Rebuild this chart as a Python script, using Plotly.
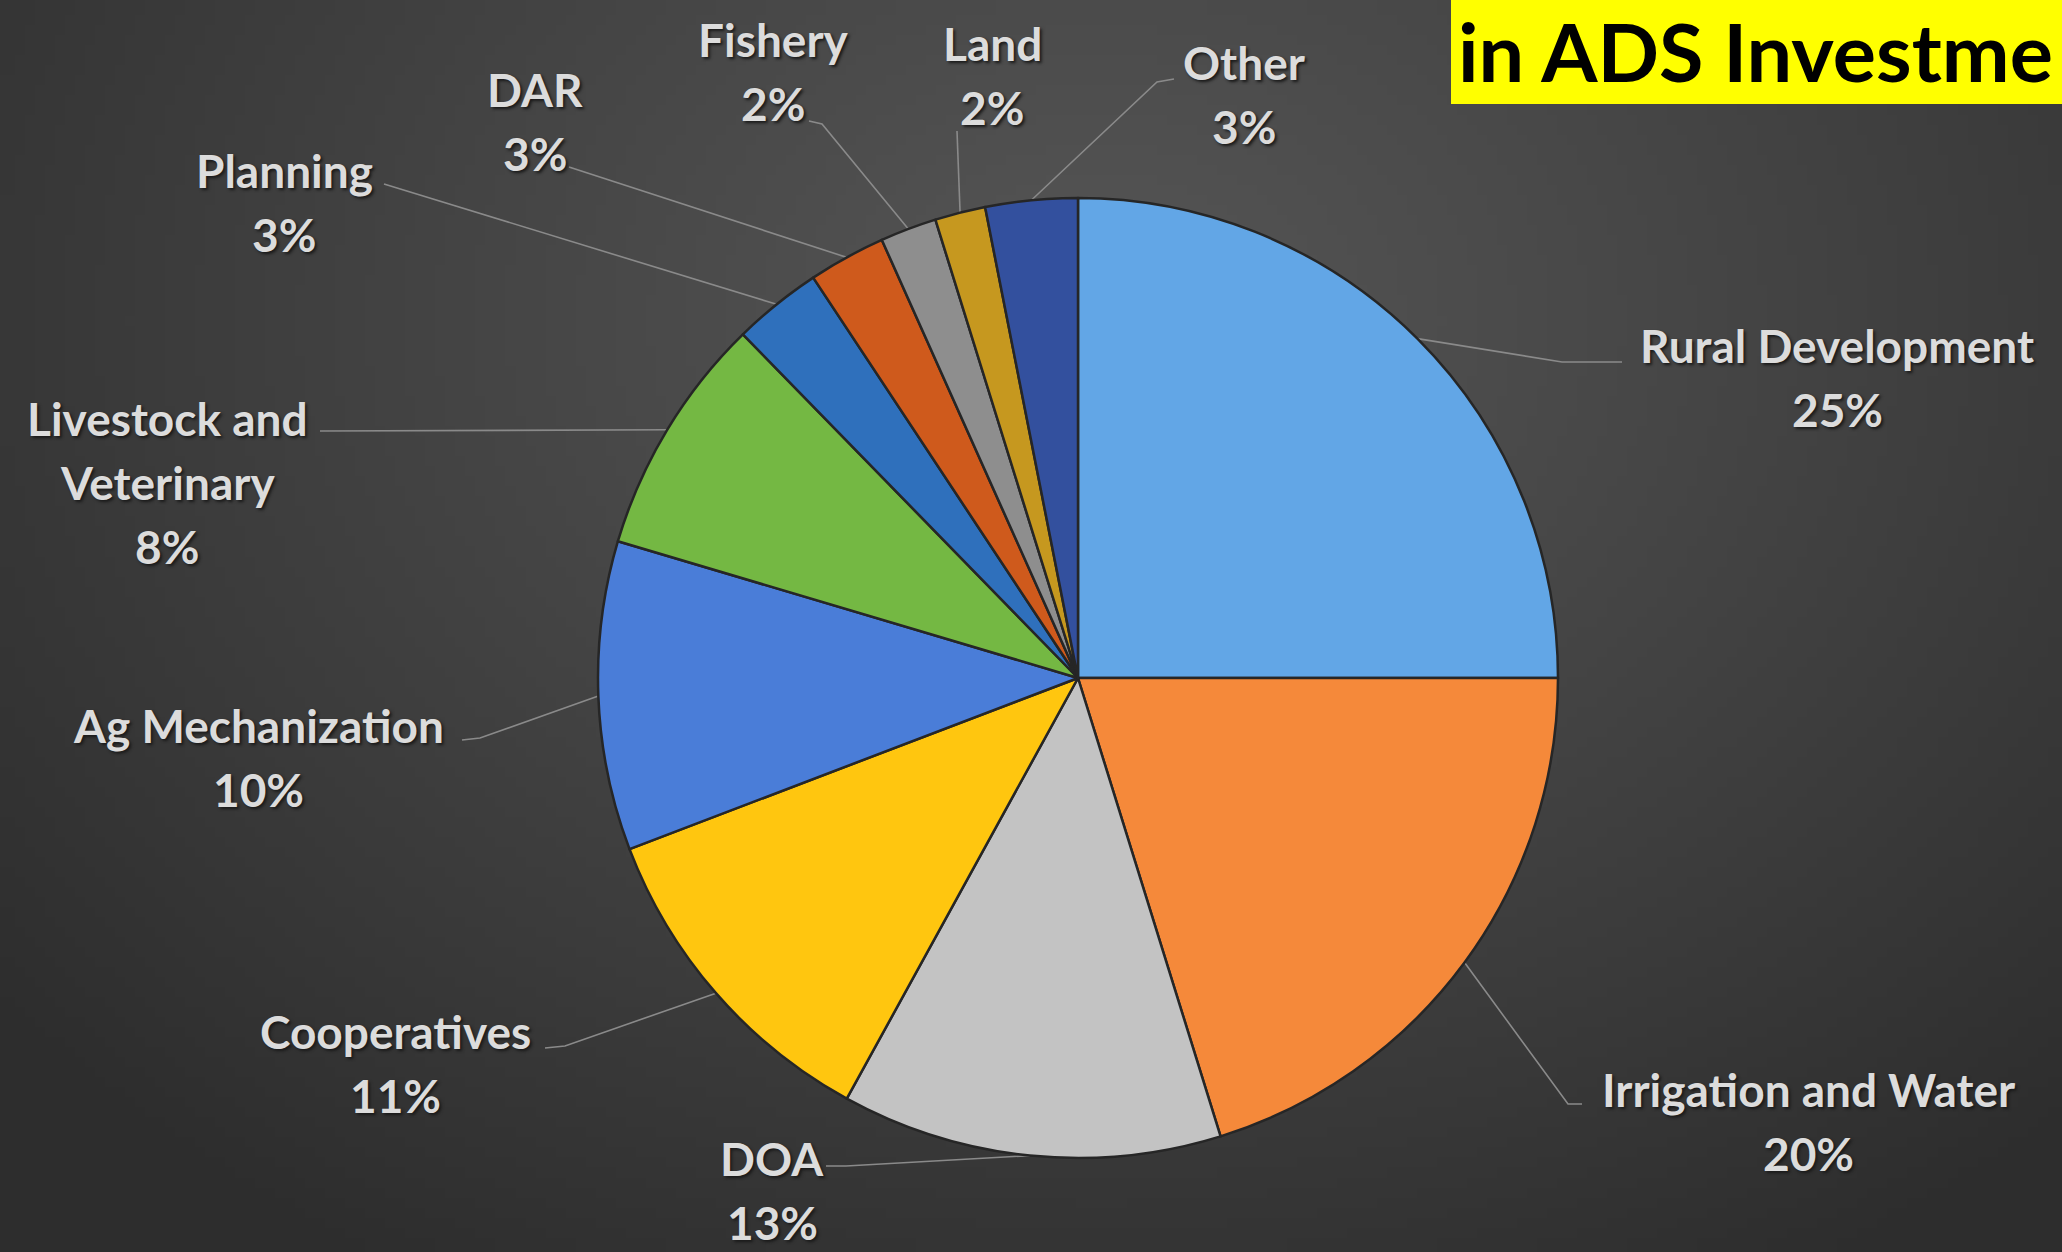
import math, struct, zlib, base64
import plotly.graph_objects as go

# ---------------- data ----------------
categories = ["Rural Development", "Irrigation and Water", "DOA", "Cooperatives",
              "Ag Mechanization", "Livestock and Veterinary", "Planning", "DAR",
              "Fishery", "Land", "Other"]
values = [25.0, 20.2, 12.8, 11.2, 10.4, 8.1, 3.0, 2.6, 1.9, 1.7, 3.1]
colors = ["#62A6E6", "#F5893A", "#C3C3C3", "#FFC60F", "#4A7DD8", "#74B843",
          "#2F70BC", "#CF5A1C", "#8E8E8E", "#C6981F", "#33509E"]
title_text = "in ADS Investme"

# ---------------- layout constants (pixels) ----------------
W, H = 2062, 1252
CX, CY, R = 1078, 678, 480

# label layout: (x center, first line y, leader start, optional elbow)
label_layout = {
    "Rural Development":        dict(x=1837, y=345, start=(1622, 362), elbow=(1562, 362)),
    "Irrigation and Water":     dict(x=1808, y=1089, start=(1582, 1104), elbow=(1568, 1104)),
    "DOA":                      dict(x=772, y=1158, start=(826, 1166), elbow=(846, 1166)),
    "Cooperatives":             dict(x=395, y=1031, start=(545, 1048), elbow=(565, 1046)),
    "Ag Mechanization":         dict(x=258, y=725, start=(462, 740), elbow=(480, 738)),
    "Livestock and Veterinary": dict(x=167, y=418, start=(320, 431), elbow=None),
    "Planning":                 dict(x=284, y=170, start=(384, 184), elbow=None),
    "DAR":                      dict(x=535, y=89, start=(569, 167), elbow=None),
    "Fishery":                  dict(x=773, y=39, start=(809, 121), elbow=(822, 124)),
    "Land":                     dict(x=992, y=43, start=(957, 131), elbow=None),
    "Other":                    dict(x=1244, y=62, start=(1174, 79), elbow=(1157, 82)),
}
wrap = {"Livestock and Veterinary": ["Livestock and", "Veterinary"]}
LINE = 64
FONT = "Lato"

# ---------------- background gradient (generated PNG) ----------------
def make_png(w, h, rows):
    def chunk(tag, data):
        return (struct.pack(">I", len(data)) + tag + data +
                struct.pack(">I", zlib.crc32(tag + data) & 0xffffffff))
    raw = b"".join(b"\x00" + bytes(r) for r in rows)
    return (b"\x89PNG\r\n\x1a\n" +
            chunk(b"IHDR", struct.pack(">IIBBBBB", w, h, 8, 2, 0, 0, 0)) +
            chunk(b"IDAT", zlib.compress(raw, 9)) + chunk(b"IEND", b""))

gw, gh = 206, 125
rows = []
for j in range(gh):
    row = []
    y = (j + 0.5) * H / gh
    for i in range(gw):
        x = (i + 0.5) * W / gw
        d = math.sqrt(((x - 1100) / 1350) ** 2 + ((y - 320) / 1050) ** 2)
        t = min(d / 1.05, 1.0)
        c = int(round(0x55 + (0x2d - 0x55) * t ** 1.1))
        row += [c, c, c]
    rows.append(row)
bg_uri = "data:image/png;base64," + base64.b64encode(make_png(gw, gh, rows)).decode()

# ---------------- figure ----------------
fig = go.Figure()

fig.add_trace(go.Pie(
    labels=categories, values=values, sort=False, direction="clockwise", rotation=0,
    marker=dict(colors=colors, line=dict(color="#262626", width=2.5)),
    textinfo="none", hoverinfo="label+percent", showlegend=False,
    domain=dict(x=[(CX - R) / W, (CX + R) / W], y=[1 - (CY + R) / H, 1 - (CY - R) / H]),
))

total = sum(values)
lx, ly = [], []
annotations = []
cum = 0.0
for name, v in zip(categories, values):
    mid = 2 * math.pi * (cum + v / 2) / total
    cum += v
    rim = (CX + R * math.sin(mid), CY - R * math.cos(mid))
    lay = label_layout[name]
    pts = [lay["start"]] + ([lay["elbow"]] if lay["elbow"] else []) + [rim]
    for p in pts:
        lx.append(p[0]); ly.append(p[1])
    lx.append(None); ly.append(None)
    pct = f"{round(v / total * 100):d}%"
    lines = wrap.get(name, [name]) + [pct]
    for k, txt in enumerate(lines):
        annotations.append(dict(
            x=lay["x"], y=lay["y"] + k * LINE, xref="x", yref="y", text=f"<b>{txt}</b>",
            showarrow=False, xanchor="center", yanchor="middle",
            font=dict(family=FONT, size=46, color="#DCDCDC", shadow="2px 2px 3px #1a1a1a")))

fig.add_trace(go.Scatter(x=lx, y=ly, mode="lines", line=dict(color="#8A8A8A", width=1.6),
                         hoverinfo="skip", showlegend=False))

annotations.append(dict(
    x=1456, y=50, xref="x", yref="y", text=f"<b>{title_text}</b>", showarrow=False,
    xanchor="left", yanchor="middle", font=dict(family=FONT, size=81, color="#000000")))

fig.update_layout(
    width=W, height=H, margin=dict(l=0, r=0, t=0, b=0),
    paper_bgcolor="#3a3a3a", plot_bgcolor="rgba(0,0,0,0)",
    xaxis=dict(range=[0, W], visible=False, domain=[0, 1], fixedrange=True),
    yaxis=dict(range=[H, 0], visible=False, domain=[0, 1], fixedrange=True),
    images=[dict(source=bg_uri, xref="paper", yref="paper", x=0, y=1, sizex=1, sizey=1,
                 sizing="stretch", layer="below", xanchor="left", yanchor="top")],
    shapes=[dict(type="rect", xref="x", yref="y", x0=1451, x1=W, y0=0, y1=104,
                 fillcolor="#FFFF00", line=dict(width=0), layer="above")],
    annotations=annotations,
)

fig.write_html("out.html")
